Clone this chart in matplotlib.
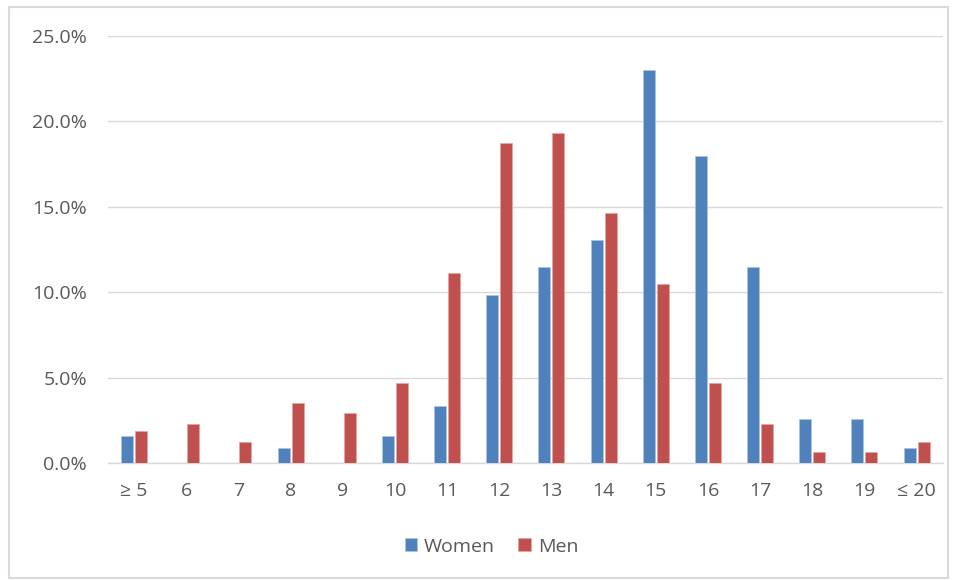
import matplotlib.pyplot as plt
from matplotlib.patches import Rectangle
from matplotlib.ticker import PercentFormatter
import numpy as np

##-----------------------------------------------------------------------------

categories = ['≥ 5', '6', '7', '8', '9', '10', '11', '12', '13', '14', '15',
              '16', '17', '18', '19', '≤ 20']
women = [1.6, 0.0, 0.0, 0.88, 0.0, 1.6, 3.35, 9.82, 11.49, 13.08, 23.02,
         17.98, 11.49, 2.55, 2.55, 0.88]
men = [1.9, 2.3, 1.25, 3.5, 2.9, 4.7, 11.1, 18.73, 19.33, 14.61, 10.49,
       4.7, 2.28, 0.66, 0.66, 1.25]

c_women = '#4F81BD'
c_men = '#C0504D'
txt = '#595959'

##-----------------------------------------------------------------------------

plt.rcParams['font.family'] = ['Open Sans', 'DejaVu Sans']

fig = plt.figure(figsize=(9.58, 5.81), dpi=100)
ax = fig.add_axes([0.1127, 0.2031, 0.8713, 0.7349])

# outer chart border
fig.patches.append(Rectangle((9/958, 3/581), 939/958, 571/581,
                             transform=fig.transFigure, fill=False,
                             edgecolor='#D9D9D9', linewidth=1.5))

x = np.arange(len(categories))
w = 0.23
ax.bar(x - w/2 - 0.02, women, w, color=c_women, edgecolor='#A9C4E4',
       linewidth=0.6, label='Women', zorder=3)
ax.bar(x + w/2 + 0.02, men, w, color=c_men, edgecolor='#E3A5A3',
       linewidth=0.6, label='Men', zorder=3)

ax.set_xlim(-0.5, len(categories) - 0.5)
ax.set_ylim(0, 25)
ax.set_yticks(np.arange(0, 26, 5))
ax.yaxis.set_major_formatter(PercentFormatter(decimals=1))
ax.set_xticks(x)
ax.set_xticklabels(categories)

ax.grid(axis='y', color='#D9D9D9', linewidth=1.0, zorder=0)
for s in ['top', 'right', 'left']:
    ax.spines[s].set_visible(False)
ax.spines['bottom'].set_color('#D9D9D9')
ax.spines['bottom'].set_linewidth(1.0)

ax.tick_params(axis='both', length=0, labelsize=14, labelcolor=txt)
ax.tick_params(axis='y', pad=15)
ax.tick_params(axis='x', pad=14)

fig.legend(loc='center', bbox_to_anchor=(0.513, 0.059), ncol=2, frameon=False,
           fontsize=14, labelcolor=txt, handlelength=0.65, handleheight=0.65,
           handletextpad=0.35, columnspacing=1.2)

fig.savefig('out.png', dpi=100)
